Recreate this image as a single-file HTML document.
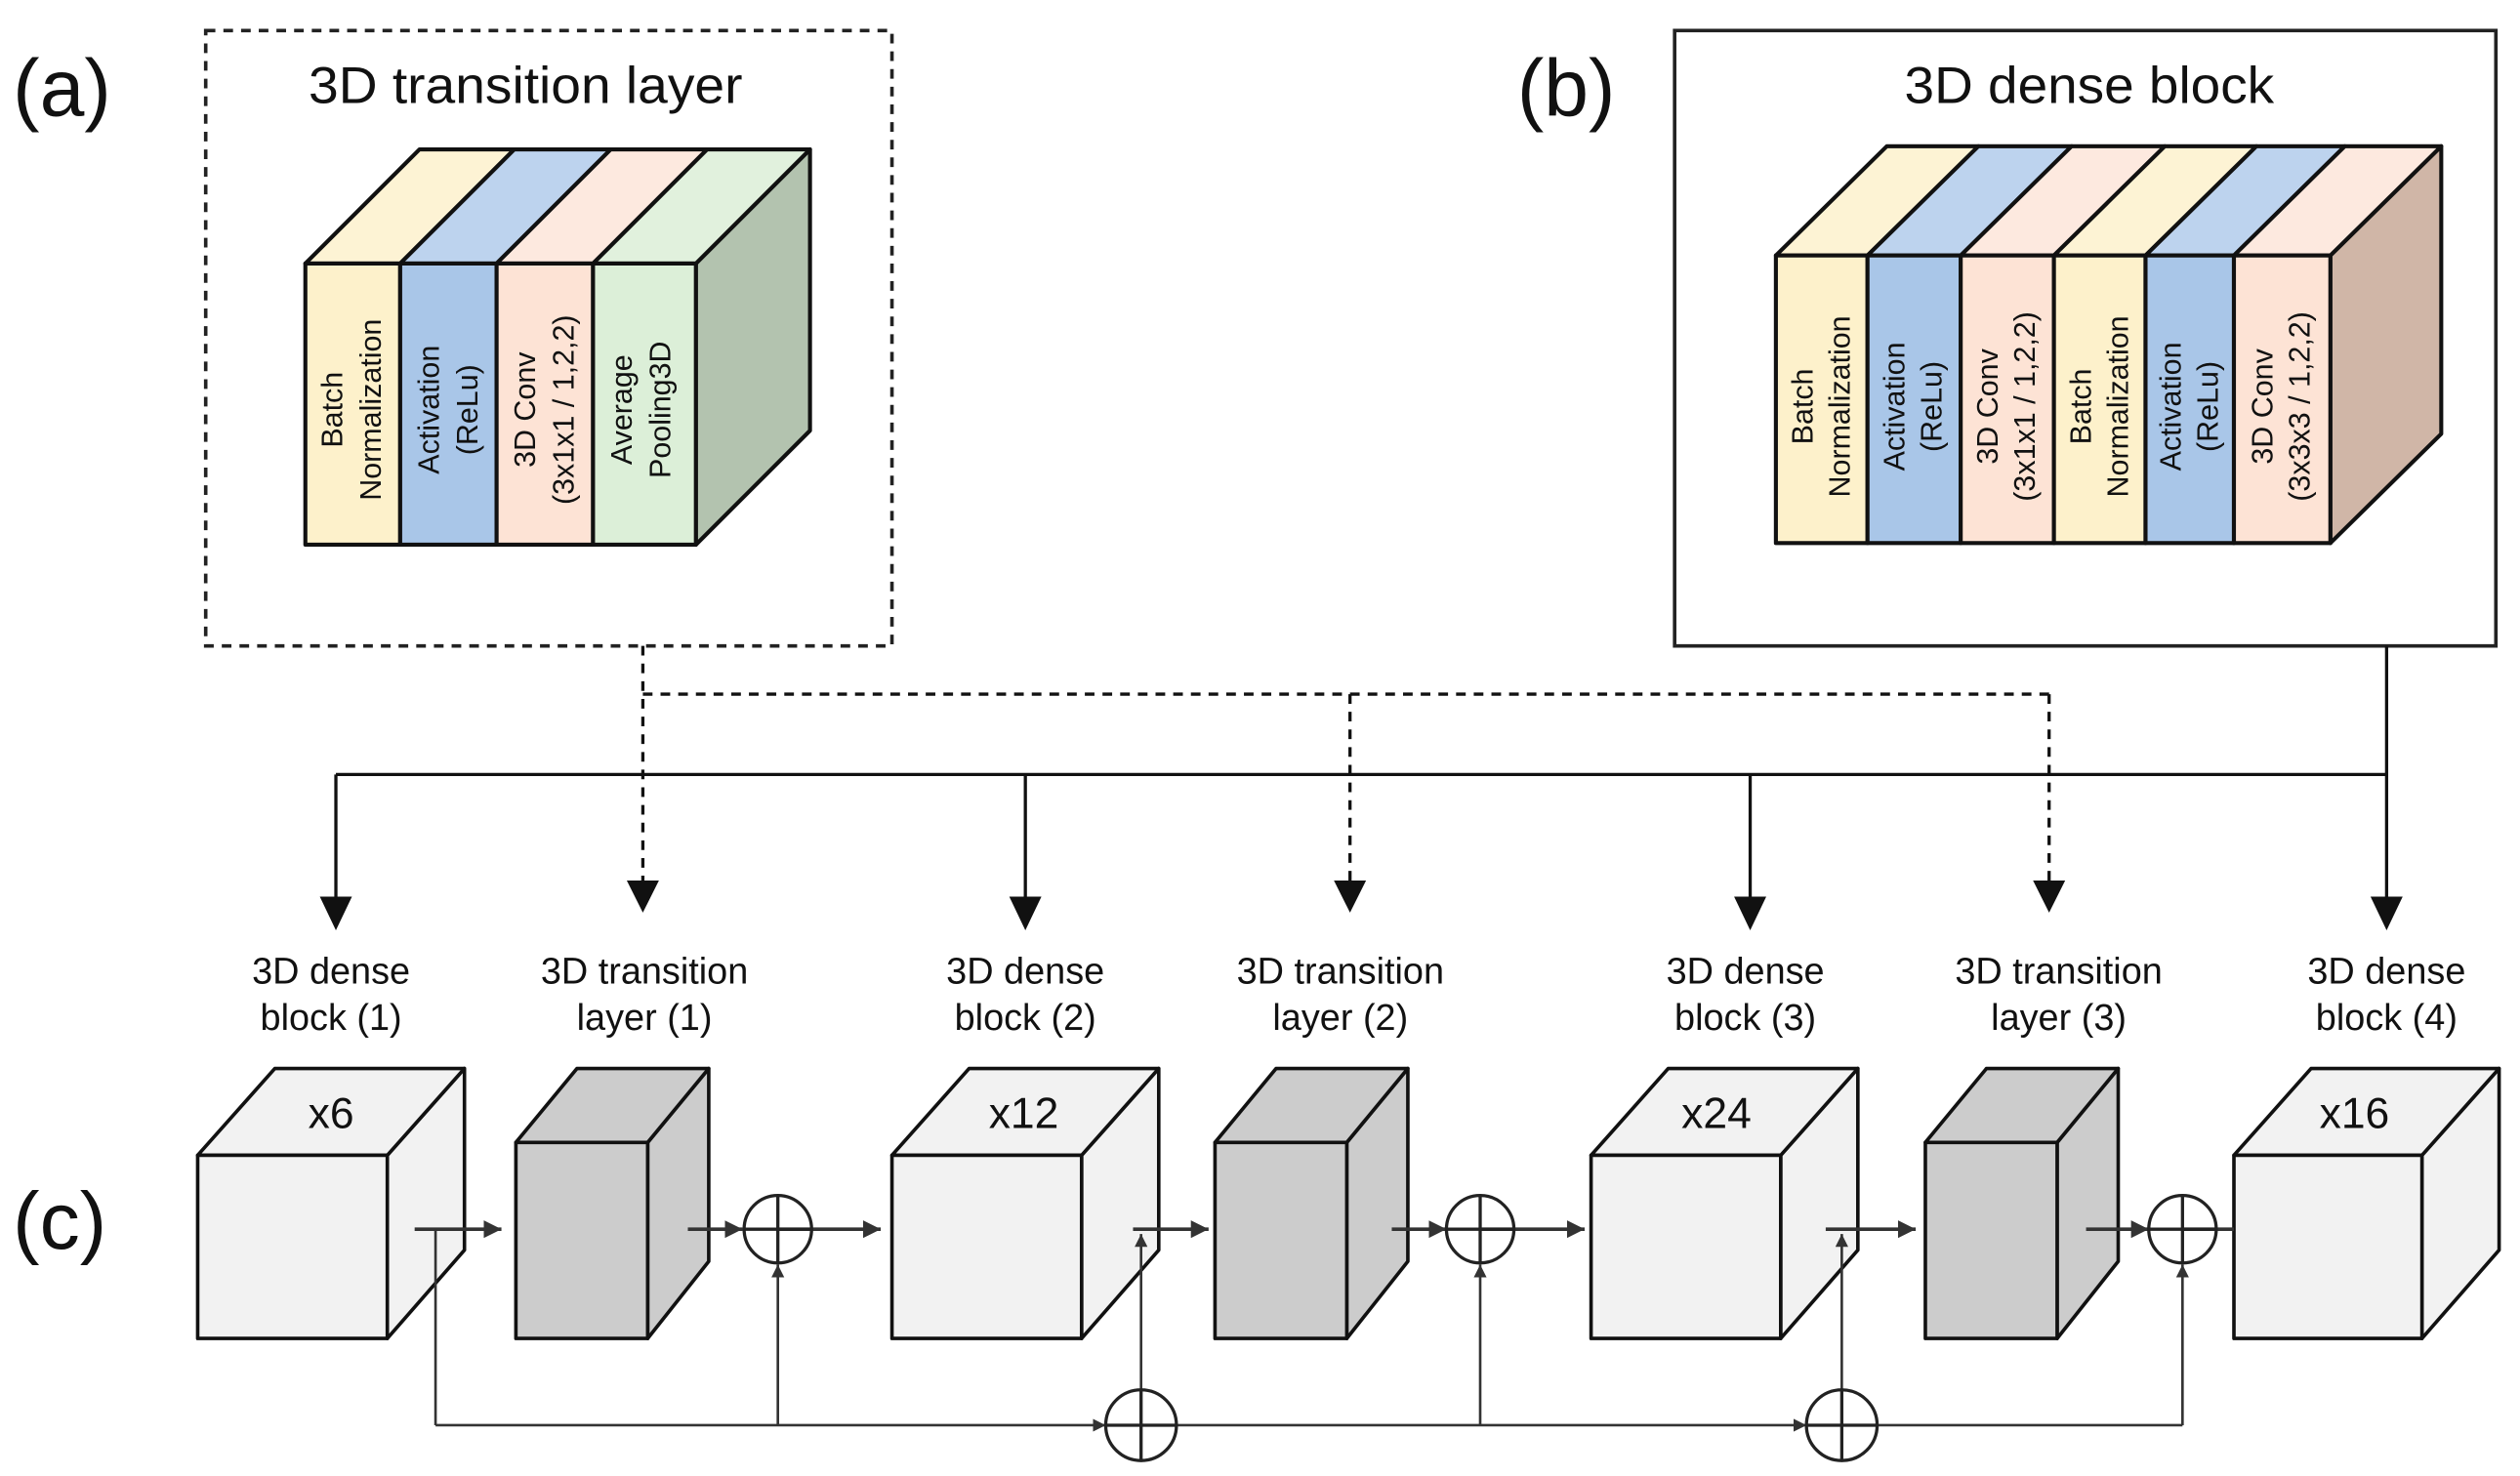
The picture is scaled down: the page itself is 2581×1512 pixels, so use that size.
<!DOCTYPE html>
<html><head><meta charset="utf-8"><style>
html,body{margin:0;padding:0;background:#fff;}
svg{display:block;}
text{font-family:"Liberation Sans",sans-serif;fill:#111;}
.v{font-size:18.5px;}
</style></head><body>
<svg width="2581" height="1512" viewBox="0 0 1568 918.6" preserveAspectRatio="none" xmlns="http://www.w3.org/2000/svg">
<defs>
<marker id="ah" viewBox="0 0 10 10" refX="10" refY="5" markerWidth="5" markerHeight="5" orient="auto"><path d="M0,0L10,5L0,10z" fill="#333"/></marker>
</defs>
<!-- (a) -->
<text x="8" y="72" font-size="50">(a)</text>
<rect x="128" y="19" width="427" height="383" fill="none" stroke="#222" stroke-width="2.2" stroke-dasharray="6,5"/>
<text x="192" y="64" font-size="32" textLength="270" lengthAdjust="spacingAndGlyphs">3D transition layer</text>
<g stroke="#111" stroke-width="2.5" stroke-linejoin="round">
<polygon points="433,164 504,93 504,268 433,339" fill="#b3c3af"/>
<polygon points="190,164 261,93 320,93 249,164" fill="#fdf3d4"/>
<polygon points="249,164 320,93 380,93 309,164" fill="#bdd3ee"/>
<polygon points="309,164 380,93 440,93 369,164" fill="#fde9df"/>
<polygon points="369,164 440,93 504,93 433,164" fill="#e1f1dd"/>
<rect x="190" y="164" width="59" height="175" fill="#fdf1cb"/>
<rect x="249" y="164" width="60" height="175" fill="#a9c6e8"/>
<rect x="309" y="164" width="60" height="175" fill="#fde3d5"/>
<rect x="369" y="164" width="64" height="175" fill="#dcefd8"/>
</g>
<g class="v" text-anchor="middle">
<text transform="translate(213,255) rotate(-90)">Batch</text>
<text transform="translate(237,255) rotate(-90)">Normalization</text>
<text transform="translate(273,255) rotate(-90)">Activation</text>
<text transform="translate(297,255) rotate(-90)">(ReLu)</text>
<text transform="translate(333,255) rotate(-90)">3D Conv</text>
<text transform="translate(357,255) rotate(-90)">(3x1x1 / 1,2,2)</text>
<text transform="translate(393,255) rotate(-90)">Average</text>
<text transform="translate(417,255) rotate(-90)">Pooling3D</text>
</g>
<!-- (b) -->
<text x="944" y="72" font-size="50">(b)</text>
<rect x="1042" y="19" width="511" height="383" fill="none" stroke="#222" stroke-width="2.2"/>
<text x="1185" y="64" font-size="32" textLength="230" lengthAdjust="spacingAndGlyphs">3D dense block</text>
<g stroke="#111" stroke-width="2.5" stroke-linejoin="round">
<polygon points="1450,159 1519,91 1519,270 1450,338" fill="#d0b6a7"/>
<polygon points="1105,159 1174,91 1231,91 1162,159" fill="#fdf3d4"/>
<polygon points="1162,159 1231,91 1289,91 1220,159" fill="#bdd3ee"/>
<polygon points="1220,159 1289,91 1347,91 1278,159" fill="#fde9df"/>
<polygon points="1278,159 1347,91 1404,91 1335,159" fill="#fdf3d4"/>
<polygon points="1335,159 1404,91 1459,91 1390,159" fill="#bdd3ee"/>
<polygon points="1390,159 1459,91 1519,91 1450,159" fill="#fde9df"/>
<rect x="1105" y="159" width="57" height="179" fill="#fdf1cb"/>
<rect x="1162" y="159" width="58" height="179" fill="#a9c6e8"/>
<rect x="1220" y="159" width="58" height="179" fill="#fde3d5"/>
<rect x="1278" y="159" width="57" height="179" fill="#fdf1cb"/>
<rect x="1335" y="159" width="55" height="179" fill="#a9c6e8"/>
<rect x="1390" y="159" width="60" height="179" fill="#fde3d5"/>
</g>
<g class="v" text-anchor="middle">
<text transform="translate(1128,253) rotate(-90)">Batch</text>
<text transform="translate(1151,253) rotate(-90)">Normalization</text>
<text transform="translate(1185,253) rotate(-90)">Activation</text>
<text transform="translate(1208,253) rotate(-90)">(ReLu)</text>
<text transform="translate(1243,253) rotate(-90)">3D Conv</text>
<text transform="translate(1266,253) rotate(-90)">(3x1x1 / 1,2,2)</text>
<text transform="translate(1301,253) rotate(-90)">Batch</text>
<text transform="translate(1324,253) rotate(-90)">Normalization</text>
<text transform="translate(1357,253) rotate(-90)">Activation</text>
<text transform="translate(1380,253) rotate(-90)">(ReLu)</text>
<text transform="translate(1414,253) rotate(-90)">3D Conv</text>
<text transform="translate(1437,253) rotate(-90)">(3x3x3 / 1,2,2)</text>
</g>
<!-- connectors -->
<g stroke="#111" stroke-width="2" fill="none">
<line x1="1485" y1="402" x2="1485" y2="560"/>
<line x1="209" y1="482" x2="1485" y2="482"/>
<line x1="209" y1="482" x2="209" y2="560"/>
<line x1="638" y1="482" x2="638" y2="560"/>
<line x1="1089" y1="482" x2="1089" y2="560"/>
<g stroke-dasharray="6,5">
<line x1="400" y1="402" x2="400" y2="550"/>
<line x1="400" y1="432" x2="1275" y2="432"/>
<line x1="840" y1="432" x2="840" y2="550"/>
<line x1="1275" y1="432" x2="1275" y2="550"/>
</g>
</g>
<g fill="#111">
<polygon points="199,558 219,558 209,579"/>
<polygon points="628,558 648,558 638,579"/>
<polygon points="1079,558 1099,558 1089,579"/>
<polygon points="1475,558 1495,558 1485,579"/>
<polygon points="390,548 410,548 400,568"/>
<polygon points="830,548 850,548 840,568"/>
<polygon points="1265,548 1285,548 1275,568"/>
</g>
<g font-size="23" text-anchor="middle">
<text x="206" y="612">3D dense</text><text x="206" y="641">block (1)</text>
<text x="401" y="612">3D transition</text><text x="401" y="641">layer (1)</text>
<text x="638" y="612">3D dense</text><text x="638" y="641">block (2)</text>
<text x="834" y="612">3D transition</text><text x="834" y="641">layer (2)</text>
<text x="1086" y="612">3D dense</text><text x="1086" y="641">block (3)</text>
<text x="1281" y="612">3D transition</text><text x="1281" y="641">layer (3)</text>
<text x="1485" y="612">3D dense</text><text x="1485" y="641">block (4)</text>
</g>
<!-- (c) -->
<text x="8" y="777" font-size="50">(c)</text>
<g stroke="#111" stroke-width="2.2" stroke-linejoin="round">
<polygon points="241,719 289,665 289,778 241,833" fill="#f2f2f2"/>
<polygon points="123,719 171,665 289,665 241,719" fill="#f2f2f2"/>
<rect x="123" y="719" width="118" height="114" fill="#f2f2f2"/>
<polygon points="673,719 721,665 721,778 673,833" fill="#f2f2f2"/>
<polygon points="555,719 603,665 721,665 673,719" fill="#f2f2f2"/>
<rect x="555" y="719" width="118" height="114" fill="#f2f2f2"/>
<polygon points="1108,719 1156,665 1156,778 1108,833" fill="#f2f2f2"/>
<polygon points="990,719 1038,665 1156,665 1108,719" fill="#f2f2f2"/>
<rect x="990" y="719" width="118" height="114" fill="#f2f2f2"/>
<polygon points="1507,719 1555,665 1555,778 1507,833" fill="#f2f2f2"/>
<polygon points="1390,719 1438,665 1555,665 1507,719" fill="#f2f2f2"/>
<rect x="1390" y="719" width="117" height="114" fill="#f2f2f2"/>
<polygon points="403,711 441,665 441,785 403,833" fill="#cccccc"/>
<polygon points="321,711 359,665 441,665 403,711" fill="#cccccc"/>
<rect x="321" y="711" width="82" height="122" fill="#cccccc"/>
<polygon points="838,711 876,665 876,785 838,833" fill="#cccccc"/>
<polygon points="756,711 794,665 876,665 838,711" fill="#cccccc"/>
<rect x="756" y="711" width="82" height="122" fill="#cccccc"/>
<polygon points="1280,711 1318,665 1318,785 1280,833" fill="#cccccc"/>
<polygon points="1198,711 1236,665 1318,665 1280,711" fill="#cccccc"/>
<rect x="1198" y="711" width="82" height="122" fill="#cccccc"/>
</g>
<g font-size="27" text-anchor="middle">
<text x="206" y="702">x6</text>
<text x="637" y="702">x12</text>
<text x="1068" y="702">x24</text>
<text x="1465" y="702">x16</text>
</g>
<g stroke="#333" stroke-width="2.2" fill="none">
<line x1="258" y1="765" x2="312" y2="765" marker-end="url(#ah)"/>
<line x1="428" y1="765" x2="462" y2="765" marker-end="url(#ah)"/>
<line x1="484" y1="765" x2="548" y2="765" marker-end="url(#ah)"/>
<line x1="705" y1="765" x2="752" y2="765" marker-end="url(#ah)"/>
<line x1="866" y1="765" x2="900" y2="765" marker-end="url(#ah)"/>
<line x1="921" y1="765" x2="986" y2="765" marker-end="url(#ah)"/>
<line x1="1136" y1="765" x2="1192" y2="765" marker-end="url(#ah)"/>
<line x1="1298" y1="765" x2="1337" y2="765" marker-end="url(#ah)"/>
<line x1="1358" y1="765" x2="1390" y2="765"/>
</g>
<g stroke="#333" stroke-width="1.6" fill="none">
<line x1="271" y1="765" x2="271" y2="887"/>
<line x1="271" y1="887" x2="688" y2="887" marker-end="url(#ah)"/>
<line x1="732" y1="887" x2="1124" y2="887" marker-end="url(#ah)"/>
<line x1="1168" y1="887" x2="1358" y2="887"/>
<line x1="484" y1="887" x2="484" y2="787" marker-end="url(#ah)"/>
<line x1="921" y1="887" x2="921" y2="787" marker-end="url(#ah)"/>
<line x1="1358" y1="887" x2="1358" y2="787" marker-end="url(#ah)"/>
<line x1="710" y1="865" x2="710" y2="768" marker-end="url(#ah)"/>
<line x1="1146" y1="865" x2="1146" y2="768" marker-end="url(#ah)"/>
</g>
<g stroke="#222" stroke-width="2" fill="none">
<circle cx="484" cy="765" r="21"/><line x1="484" y1="744" x2="484" y2="786"/><line x1="463" y1="765" x2="505" y2="765"/>
<circle cx="921" cy="765" r="21"/><line x1="921" y1="744" x2="921" y2="786"/><line x1="900" y1="765" x2="942" y2="765"/>
<circle cx="1358" cy="765" r="21"/><line x1="1358" y1="744" x2="1358" y2="786"/><line x1="1337" y1="765" x2="1379" y2="765"/>
<circle cx="710" cy="887" r="22"/><line x1="710" y1="865" x2="710" y2="909"/><line x1="688" y1="887" x2="732" y2="887"/>
<circle cx="1146" cy="887" r="22"/><line x1="1146" y1="865" x2="1146" y2="909"/><line x1="1124" y1="887" x2="1168" y2="887"/>
</g>
</svg>
</body></html>
